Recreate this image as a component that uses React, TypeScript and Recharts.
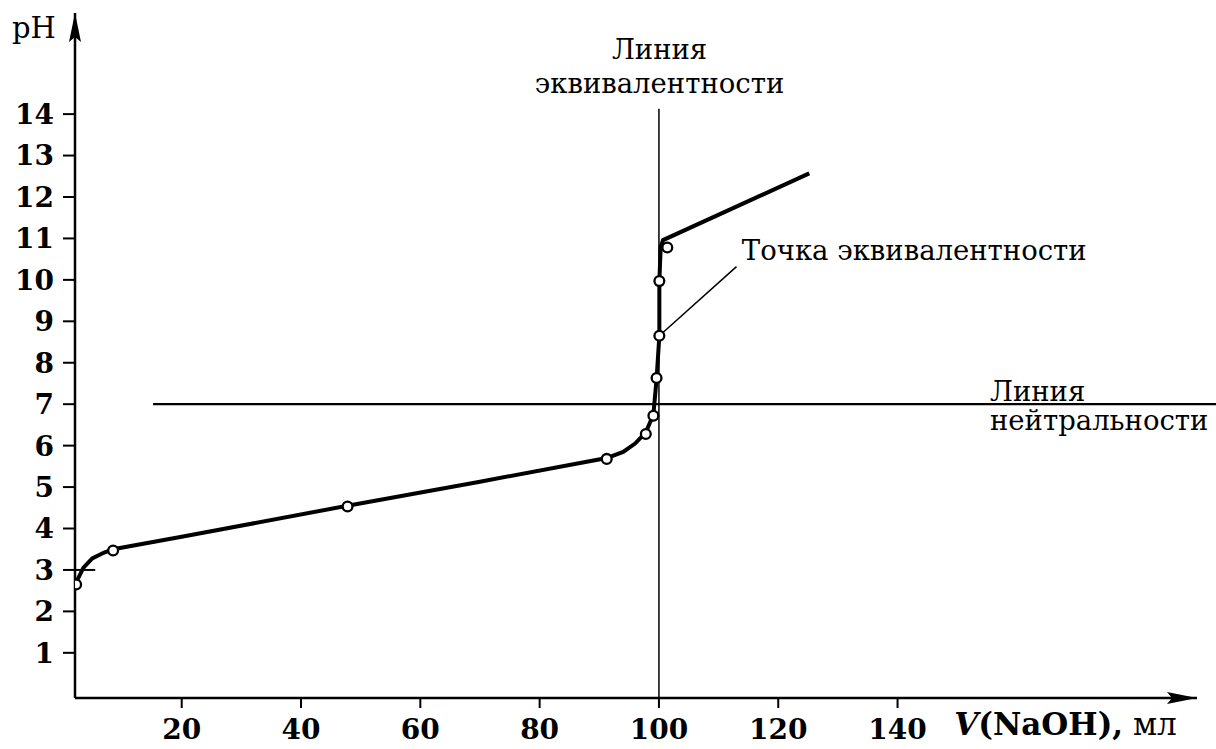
import React from 'react';
import { ComposedChart, Line, Scatter, XAxis, YAxis, ReferenceLine, ReferenceDot } from 'recharts';

// Tick labels
const volumeTicks = [20, 40, 60, 80, 100, 120, 140];
const phTicks = [1, 2, 3, 4, 5, 6, 7, 8, 9, 10, 11, 12, 13, 14];

// Titration curve (volume NaOH, ml -> pH)
const curveVolume = [2.3, 3.5, 5, 7, 8.5, 20, 47.8, 70, 91.25, 94, 96, 97.8, 99.07, 99.6, 100.07, 100.07, 100.3, 100.7, 125.2];
const curvePh = [2.7, 3.05, 3.28, 3.42, 3.5, 3.8, 4.55, 5.13, 5.7, 5.85, 6.05, 6.32, 6.75, 7.6, 8.65, 9.97, 10.8, 10.96, 12.57];

// Measured points (open circles)
const pointVolume = [2.3, 8.5, 47.8, 91.25, 97.8, 99.07, 99.6, 100.07, 100.07, 101.4];
const pointPh = [2.65, 3.47, 4.53, 5.68, 6.28, 6.72, 7.63, 8.65, 9.97, 10.78];

// Reference lines
const equivalenceVolume = 100;
const neutralPh = 7;

const curveData = curveVolume.map((v, i) => ({ v, ph: curvePh[i] }));
const pointData = pointVolume.map((v, i) => ({ v, ph: pointPh[i] }));

const X_MIN = 2.11;
const X_MAX = 190.2;
const Y_MIN = -0.09;
const Y_MAX = 16.44;

const FONT = '"DejaVu Serif", "Liberation Serif", serif';
const ANN = 27.5;

const makeText = (
  content: React.ReactNode,
  anchor: 'start' | 'middle' | 'end',
  size: number,
  weight: string | number = 'normal'
) =>
  (props: any) => (
    <text x={props.cx} y={props.cy} textAnchor={anchor} fontSize={size} fontFamily={FONT} fontWeight={weight} fill="#000">
      {content}
    </text>
  );

const UpArrow = (props: any) => {
  const { cx, cy } = props;
  return <path d={`M${cx},${cy} L${cx - 6},${cy + 29} L${cx},${cy + 24} L${cx + 6},${cy + 29} Z`} fill="#000" />;
};

const RightArrow = (props: any) => {
  const { cx, cy } = props;
  return <path d={`M${cx},${cy} L${cx - 30},${cy - 6} L${cx - 25},${cy} L${cx - 30},${cy + 6} Z`} fill="#000" />;
};

const OpenCircle = (props: any) => {
  const { cx, cy } = props;
  return <circle cx={cx} cy={cy} r={4.9} fill="#fff" stroke="#000" strokeWidth={2.3} />;
};

export default function App() {
  return (
    <div style={{ position: 'absolute', left: 0, top: 0, width: 1216, height: 749, background: '#fff' }}>
      <ComposedChart width={1216} height={749} margin={{ top: 13, right: 19, bottom: 0, left: 0 }}>
        <XAxis
          type="number"
          dataKey="v"
          domain={[X_MIN, X_MAX]}
          allowDataOverflow
          ticks={volumeTicks}
          height={51}
          stroke="#000"
          axisLine={{ stroke: '#000', strokeWidth: 2.5 }}
          tickLine={{ stroke: '#000', strokeWidth: 2 }}
          tickSize={10}
          tickMargin={11}
          tick={{ fill: '#000', fontSize: 28, fontWeight: 'bold', fontFamily: FONT }}
        />
        <YAxis
          type="number"
          dataKey="ph"
          domain={[Y_MIN, Y_MAX]}
          allowDataOverflow
          ticks={phTicks}
          width={75}
          stroke="#000"
          axisLine={{ stroke: '#000', strokeWidth: 2.5 }}
          tickLine={{ stroke: '#000', strokeWidth: 2 }}
          tickSize={12}
          tickMargin={9}
          interval={0}
          tick={{ fill: '#000', fontSize: 28, fontWeight: 'bold', fontFamily: FONT }}
        />
        <ReferenceLine
          segment={[{ x: equivalenceVolume, y: Y_MIN }, { x: equivalenceVolume, y: 14.13 }]}
          stroke="#000"
          strokeWidth={1.5}
          ifOverflow="visible"
        />
        <ReferenceLine
          segment={[{ x: 15.2, y: neutralPh }, { x: 193.4, y: neutralPh }]}
          stroke="#000"
          strokeWidth={2.3}
          ifOverflow="visible"
        />
        <ReferenceLine
          segment={[{ x: X_MIN, y: 3 }, { x: 5.5, y: 3 }]}
          stroke="#000"
          strokeWidth={2}
          ifOverflow="visible"
        />
        <ReferenceLine
          segment={[{ x: 100.07, y: 8.65 }, { x: 113.0, y: 10.32 }]}
          stroke="#000"
          strokeWidth={1.5}
          ifOverflow="visible"
        />
        <Line
          data={curveData}
          dataKey="ph"
          type="linear"
          stroke="#000"
          strokeWidth={4}
          dot={false}
          activeDot={false}
          isAnimationActive={false}
        />
        <Scatter data={pointData} dataKey="ph" shape={<OpenCircle />} isAnimationActive={false} />
        <ReferenceDot x={X_MIN} y={Y_MAX} r={0} ifOverflow="visible" shape={<UpArrow />} />
        <ReferenceDot x={X_MAX} y={Y_MIN} r={0} ifOverflow="visible" shape={<RightArrow />} />
        <ReferenceDot x={-8.45} y={15.84} ifOverflow="visible" shape={makeText('pH', 'start', 29)} />
        <ReferenceDot x={100.1} y={15.32} ifOverflow="visible" shape={makeText('Линия', 'middle', ANN)} />
        <ReferenceDot x={100.1} y={14.51} ifOverflow="visible" shape={makeText('эквивалентности', 'middle', ANN)} />
        <ReferenceDot x={113.9} y={10.47} ifOverflow="visible" shape={makeText('Точка эквивалентности', 'start', ANN)} />
        <ReferenceDot x={155.5} y={7.08} ifOverflow="visible" shape={makeText('Линия', 'start', ANN)} />
        <ReferenceDot x={155.5} y={6.37} ifOverflow="visible" shape={makeText('нейтральности', 'start', ANN)} />
        <ReferenceDot
          x={149.5}
          y={-0.98}
          ifOverflow="visible"
          shape={makeText(
            <>
              <tspan fontStyle="italic" fontWeight="bold">V</tspan>
              <tspan fontWeight="bold">(NaOH),</tspan>
              <tspan> мл</tspan>
            </>,
            'start',
            31
          )}
        />
      </ComposedChart>
    </div>
  );
}
